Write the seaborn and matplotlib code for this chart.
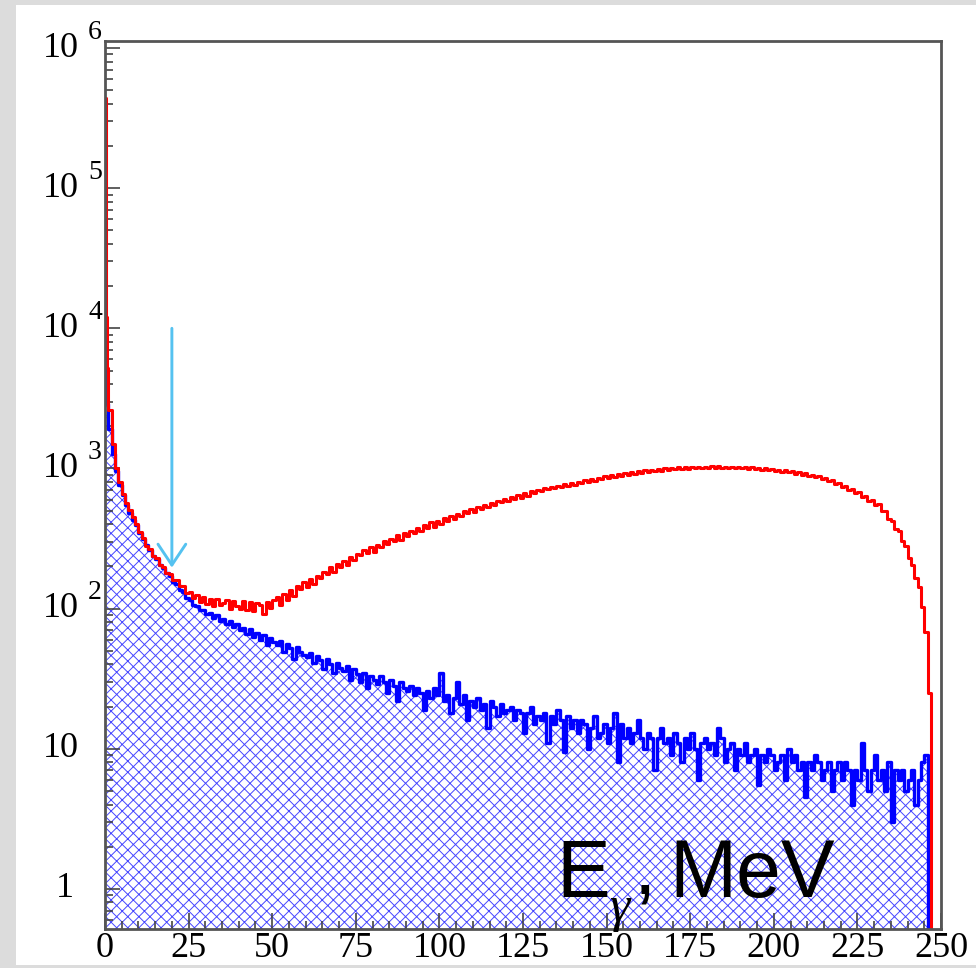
import numpy as np
import pandas as pd
import matplotlib
matplotlib.use("Agg")
import matplotlib.pyplot as plt
import matplotlib.transforms as mtransforms
from matplotlib.patches import Rectangle
from matplotlib.ticker import MultipleLocator, NullFormatter, LogLocator
import seaborn as sns

# ---------------- data ----------------
fine_edges = [0.0, 0.25, 0.5, 0.75]          # first narrow bins, then 1 MeV bins from 1 MeV
red_fine = [440000, 12000, 5200, 3500]
blue_fine = [5200, 3600, 2900, 2400]

# red histogram, bins [1,2), [2,3), ... MeV
red_main = [
    2600, 1500, 1010, 800, 662, 570, 505, 452, 400, 352,
    318, 282, 265, 236, 228, 204, 199, 180, 176, 160,
    160, 146, 146, 130, 132, 120, 125, 112, 121, 108,
    118, 104, 117, 106, 110, 116, 100, 114, 104, 99,
    113, 97, 111, 96, 109, 106, 92, 112, 101, 116,
    121, 106, 128, 116, 136, 124, 144, 138, 156, 142,
    164, 150, 172, 166, 182, 178, 197, 181, 207, 198,
    218, 206, 234, 222, 244, 240, 262, 248, 276, 255,
    286, 274, 302, 288, 314, 305, 334, 310, 346, 330,
    358, 346, 376, 360, 394, 374, 412, 385, 424, 402,
    440, 420, 460, 436, 476, 456, 498, 478, 512, 492,
    534, 512, 548, 530, 566, 545, 590, 572, 604, 586,
    626, 602, 645, 618, 665, 640, 686, 668, 706, 690,
    728, 708, 742, 720, 752, 736, 770, 748, 786, 765,
    800, 782, 822, 800, 842, 818, 862, 842, 878, 860,
    896, 872, 910, 886, 925, 902, 940, 916, 955, 935,
    968, 945, 980, 958, 992, 966, 1000, 975, 1010, 985,
    1018, 990, 1022, 998, 1028, 1000, 1032, 1005, 1030, 1010,
    1035, 1008, 1038, 1010, 1032, 1012, 1030, 1006, 1025, 1000,
    1022, 995, 1018, 985, 1010, 978, 1002, 970, 992, 962,
    980, 950, 968, 936, 955, 920, 940, 905, 922, 885,
    902, 865, 880, 840, 855, 812, 825, 778, 790, 740,
    752, 702, 715, 665, 676, 628, 640, 588, 598, 548,
    555, 498, 495, 436, 425, 372, 358, 302, 282, 228,
    205, 165, 142, 102, 68, 25,
]

# blue (hatched) histogram, bins [1,2), [2,3), ... MeV
blue_main = [
    1900, 1260, 955, 765, 645, 548, 482, 428, 392, 348,
    314, 284, 262, 238, 226, 206, 196, 179, 171, 156,
    150, 136, 131, 119, 116, 106, 104, 97, 98, 91,
    93, 86, 90, 82, 85, 78, 81, 74, 78, 70,
    73, 66, 71, 63, 67, 60, 65, 55, 62, 58,
    55, 59, 49, 56, 52, 44, 53, 49, 47, 45,
    48, 41, 46, 43, 37, 44, 40, 35, 41, 38,
    36, 39, 31, 37, 34, 30, 35, 27, 33, 31,
    29, 33, 30, 25, 31, 28, 22, 30, 27, 26,
    28, 24, 27, 25, 19, 26, 23, 27, 24, 35,
    22, 24, 18, 23, 30, 21, 24, 16, 22, 20,
    23, 19, 21, 14, 22, 20, 17, 21, 18, 19,
    20, 16, 19, 18, 13, 18, 20, 15, 17, 16,
    18, 11, 17, 15, 19, 16, 9.5, 17, 14, 16,
    13, 16, 15, 10, 14, 17, 12, 13, 15, 11,
    14, 18, 8, 15, 12, 14, 11, 13, 16, 12,
    10, 13, 12, 7, 12, 14, 11, 12, 9, 13,
    11, 8, 12, 10, 13, 10, 6, 11, 12, 10,
    11, 9, 14, 12, 8, 10, 11, 7, 10, 9,
    11, 8, 9, 10, 5.5, 9, 8, 10, 9, 7,
    8, 9, 6, 10, 8, 9, 7, 8, 4.5, 8,
    7, 9, 8, 6, 7, 8, 5, 7, 8, 6,
    8, 7, 4, 7, 6, 11, 7, 5, 7, 9,
    6, 7, 5, 8, 3, 7, 6, 7, 5, 6,
    7, 4, 6, 8, 9,
]

x_ticks = [0, 25, 50, 75, 100, 125, 150, 175, 200, 225, 250]
x_tick_labels = ["0", "25", "50", "75", "100", "125", "150", "175", "200", "225", "250"]
y_decades = [1, 10, 100, 1000, 10000, 100000, 1000000]
y_base_labels = ["1", "10", "10", "10", "10", "10", "10"]
y_exp_labels = ["", "", "2", "3", "4", "5", "6"]

arrow_x = 20.0
arrow_from = 1.0e4
arrow_to = 196.0
title_main = "E"
title_sub = "\u03b3"
title_comma = ","
title_unit = "MeV"

# ---------------- assemble histogram table ----------------
n_main = max(len(red_main), len(blue_main)) + 1
red_vals = red_fine + red_main + [0] * (n_main - len(red_main))
blue_vals = blue_fine + blue_main + [0] * (n_main - len(blue_main))
edges = [float(e) for e in np.concatenate([fine_edges, np.arange(1, n_main + 2)])]
centers = [0.5 * (a + b) for a, b in zip(edges[:-1], edges[1:])]
df = pd.DataFrame({"E": centers, "red": red_vals, "blue": blue_vals})

# ---------------- style ----------------
plt.rcParams["hatch.linewidth"] = 0.7

fig = plt.figure(figsize=(9.76, 9.68), dpi=100, facecolor="#dcdcdc")
fig.add_artist(Rectangle((16 / 976, 3 / 968), 960 / 976, 960 / 968,
                         transform=fig.transFigure, facecolor="white",
                         edgecolor="none", zorder=-10))
ax = fig.add_axes([105 / 976, (968 - 929) / 968, 836 / 976, 888 / 968])
ax.set_facecolor("white")

# hatched blue area
sns.histplot(data=df, x="E", weights="blue", bins=edges, element="step",
             fill=True, color="#4646ff", facecolor="none", edgecolor="#4646ff",
             linewidth=0, hatch="xxx", ax=ax)
# blue outline
sns.histplot(data=df, x="E", weights="blue", bins=edges, element="step",
             fill=False, color="#0000ff", linewidth=2.4, ax=ax)
# red outline
sns.histplot(data=df, x="E", weights="red", bins=edges, element="step",
             fill=False, color="#ff0000", linewidth=2.2, ax=ax)

ax.set_yscale("log")
ax.set_xlim(0, 250)
ax.set_ylim(10 ** (-0.286), 10 ** 6.05)
ax.set_xlabel("")
ax.set_ylabel("")

for s in ax.spines.values():
    s.set_linewidth(2.0)
    s.set_color("#555555")

ax.set_xticks(x_ticks)
ax.set_xticklabels(x_tick_labels, fontfamily="Liberation Serif", fontsize=26)
ax.xaxis.set_minor_locator(MultipleLocator(5))
ax.yaxis.set_major_locator(LogLocator(base=10, numticks=20))
ax.yaxis.set_minor_locator(LogLocator(base=10, subs=np.arange(2, 10), numticks=20))
ax.yaxis.set_major_formatter(NullFormatter())
ax.yaxis.set_minor_formatter(NullFormatter())
ax.tick_params(which="both", direction="in", top=False, right=False,
               color="#444444", width=1.2)
ax.tick_params(axis="x", which="major", length=11.5, pad=2)
ax.tick_params(axis="y", which="major", length=11)
ax.tick_params(which="minor", length=5.5)

# y labels in ROOT style: "10" with raised exponent
trans = mtransforms.blended_transform_factory(ax.transAxes, ax.transData)
for dec, base, ex in zip(y_decades, y_base_labels, y_exp_labels):
    xr = -0.0311 if base == "10" else -0.0371
    ax.text(xr, dec, base, transform=trans, ha="right", va="center",
            fontfamily="Liberation Serif", fontsize=26, clip_on=False)
    if ex:
        ax.annotate(ex, xy=(-0.0203, dec), xycoords=trans, xytext=(0, 11.5),
                    textcoords="offset points", ha="left", va="center",
                    fontfamily="Liberation Serif", fontsize=20,
                    annotation_clip=False)

# arrow
ax.annotate("", xy=(arrow_x, arrow_to), xytext=(arrow_x, arrow_from),
            arrowprops=dict(arrowstyle="->,head_length=0.75,head_width=0.5",
                            color="#55c2f0", lw=2.1, mutation_scale=20,
                            shrinkA=0, shrinkB=0))

# axis title, composed ROOT-like: E, subscript gamma, comma, MeV
def px_x(p):
    return (p - 105) / 836.0


def px_y(p):
    return (929 - p) / 888.0


ax.text(px_x(556), px_y(897), title_main, transform=ax.transAxes, ha="left",
        va="baseline", fontfamily="Liberation Sans", fontsize=58, zorder=5)
ax.text(px_x(609), px_y(921), title_sub, transform=ax.transAxes, ha="left",
        va="baseline", fontfamily="Liberation Serif", fontstyle="italic",
        fontsize=37, zorder=5, clip_on=False)
ax.text(px_x(634), px_y(894), title_comma, transform=ax.transAxes, ha="left",
        va="baseline", fontfamily="Liberation Sans", fontsize=58, zorder=5)
ax.text(px_x(669), px_y(897), title_unit, transform=ax.transAxes, ha="left",
        va="baseline", fontfamily="Liberation Sans", fontsize=58, zorder=5)

fig.savefig("out.png", dpi=100, facecolor=fig.get_facecolor())
